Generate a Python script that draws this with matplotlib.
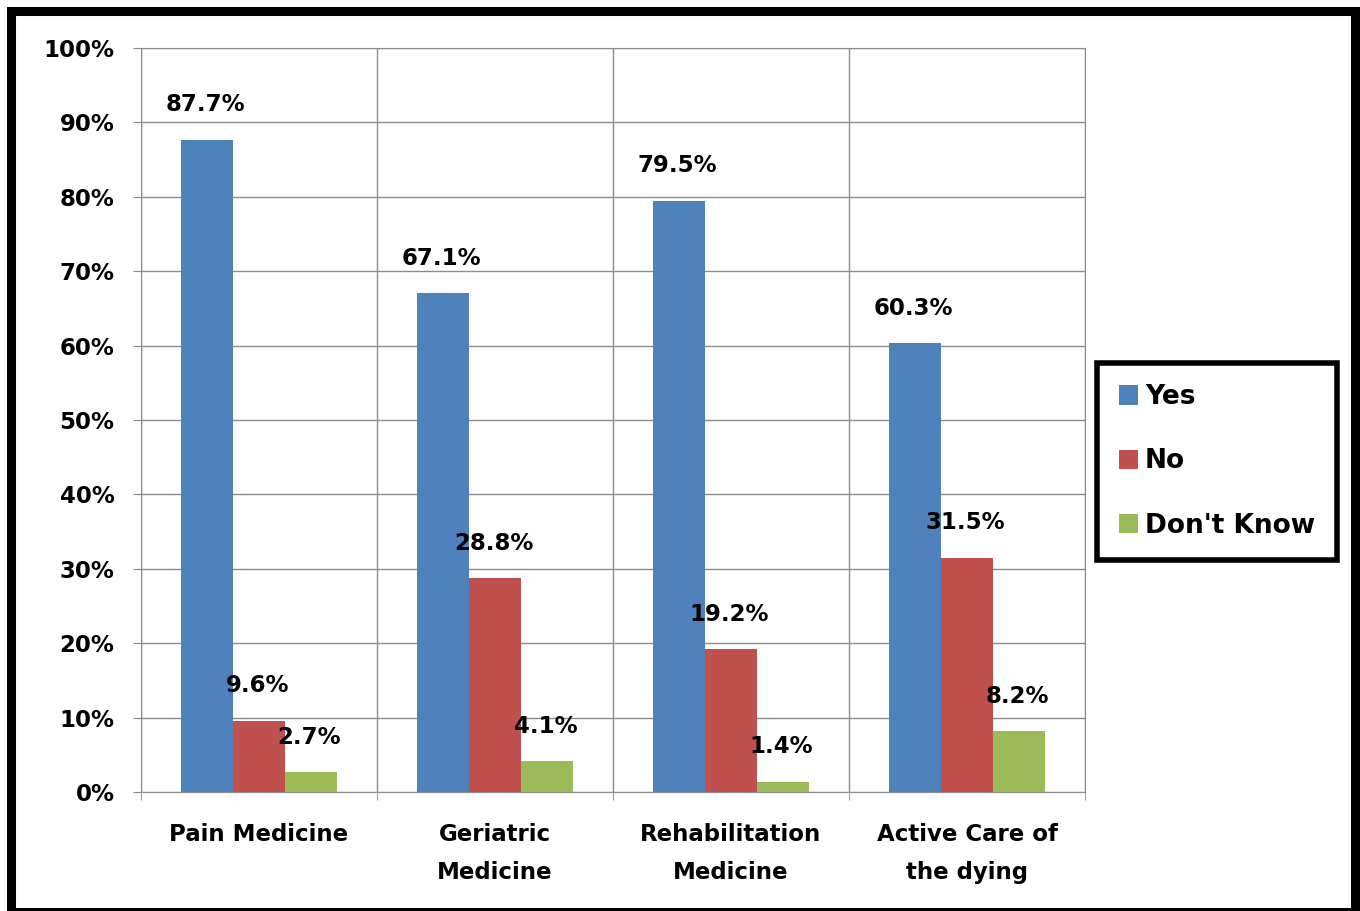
import matplotlib.pyplot as plt
from matplotlib.patches import Rectangle
import numpy as np

# Survey answers per specialty (percent)
categories = ['Pain Medicine', 'Geriatric\nMedicine', 'Rehabilitation\nMedicine', 'Active Care of\nthe dying']
yes = [87.7, 67.1, 79.5, 60.3]
no = [9.6, 28.8, 19.2, 31.5]
dont_know = [2.7, 4.1, 1.4, 8.2]

series = [('Yes', yes, '#4F81BD'), ('No', no, '#C0504D'), ("Don't Know", dont_know, '#9BBB59')]

plt.rcParams['font.family'] = ['DejaVu Sans']
plt.rcParams['font.weight'] = 'bold'

fig = plt.figure(figsize=(13.6, 9.11), dpi=100)
ax = fig.add_axes([141 / 1360, 119 / 911, 944 / 1360, 744 / 911])

x = np.arange(len(categories)) + 0.5
width = 0.22
for i, (name, vals, color) in enumerate(series):
    pos = x + (i - 1) * width
    ax.bar(pos, vals, width, color=color, label=name, zorder=3)
    for px, v in zip(pos, vals):
        ax.annotate(f'{v}%', (px, v), xytext=(-1, 25), textcoords='offset points',
                    ha='center', va='center', fontsize=16.5, fontweight='bold', zorder=4)

ax.set_xlim(0, len(categories))
ax.set_ylim(0, 100)
ax.set_yticks(np.arange(0, 101, 10))
ax.set_yticklabels([f'{t}%' for t in range(0, 101, 10)])
ax.set_xticks(x)
ax.set_xticklabels(categories, linespacing=1.85)
ax.set_xticks(np.arange(len(categories) + 1), minor=True)
ax.tick_params(axis='x', which='major', length=0, pad=22, labelsize=16.5)
ax.tick_params(axis='x', which='minor', length=6, color='#888888')
ax.tick_params(axis='y', length=6, color='#888888', labelsize=16.5, pad=13)
for lab in ax.get_xticklabels() + ax.get_yticklabels():
    lab.set_fontweight('bold')

ax.grid(axis='y', which='major', color='#8c8c8c', linewidth=1, zorder=0)
ax.grid(axis='x', which='minor', color='#8c8c8c', linewidth=1, zorder=0)
for s in ax.spines.values():
    s.set_color('#8c8c8c')

leg = ax.legend(loc='center left', bbox_to_anchor=(1097 / 1360, 449.5 / 911),
                bbox_transform=fig.transFigure, frameon=True, fancybox=False, framealpha=1,
                prop={'size': 19, 'weight': 'bold'}, handlelength=0.75, handleheight=0.75,
                handletextpad=0.25, labelspacing=1.45, borderpad=0.82, borderaxespad=0)
leg.get_frame().set_edgecolor('black')
leg.get_frame().set_linewidth(4)

# Outer frame around the whole chart (bottom edge runs off the image)
fig.patches.append(Rectangle((10.5 / 1360, -1 / 911), 1344.5 / 1360, 901.5 / 911,
                             transform=fig.transFigure, fill=False, edgecolor='black',
                             linewidth=6.5))

fig.savefig('out.png', dpi=100)
